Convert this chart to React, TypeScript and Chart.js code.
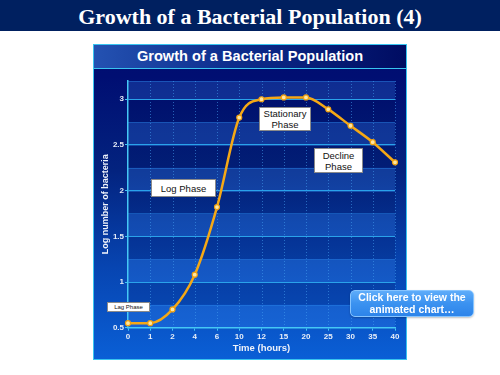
import React, { useEffect, useRef } from "react";
import { Chart, registerables } from "chart.js";

Chart.register(...registerables);

// ---- data ----
const timeLabels = ["0", "1", "2", "4", "6", "10", "12", "15", "20", "25", "30", "35", "40"];
const logBacteria = [0.55, 0.55, 0.7, 1.08, 1.82, 2.8, 3.0, 3.02, 3.02, 2.89, 2.71, 2.53, 2.31];
const yMin = 0.5;
const yMax = 3.2;
const yStep = 0.5;
const bandStep = 0.25;

const pageTitle = "Growth of a Bacterial Population (4)";
const chartTitle = "Growth of a Bacterial Population";
const xTitle = "Time (hours)";
const yTitle = "Log number of bacteria";

const bandPlugin = {
  id: "bands",
  beforeDraw(chart: any) {
    const { ctx, chartArea: a, scales } = chart;
    const y = scales.y;
    const x = scales.x;
    ctx.save();
    let i = 0;
    for (let v = yMin; v < yMax - 1e-9; v += bandStep, i++) {
      const top = y.getPixelForValue(Math.min(v + bandStep, yMax));
      const bot = y.getPixelForValue(v);
      if (i % 2 === 0) {
        ctx.fillStyle = "rgba(70,150,255,0.22)";
        ctx.fillRect(a.left, top, a.right - a.left, bot - top);
      } else {
        ctx.fillStyle = "rgba(0,0,60,0.12)";
        ctx.fillRect(a.left, top, a.right - a.left, bot - top);
      }
      ctx.strokeStyle = "rgba(40,130,230,0.45)";
      ctx.lineWidth = 1;
      ctx.beginPath();
      ctx.moveTo(a.left, Math.round(top) + 0.5);
      ctx.lineTo(a.right, Math.round(top) + 0.5);
      ctx.stroke();
    }
    // vertical dotted grid lines
    ctx.strokeStyle = "rgba(70,160,240,0.55)";
    ctx.setLineDash([1, 2]);
    for (let k = 1; k < timeLabels.length; k++) {
      const px = Math.round(x.getPixelForValue(k)) + 0.5;
      ctx.beginPath();
      ctx.moveTo(px, a.top);
      ctx.lineTo(px, a.bottom);
      ctx.stroke();
    }
    ctx.restore();
  },
};

function ChartCanvas() {
  const ref = useRef<HTMLCanvasElement | null>(null);
  useEffect(() => {
    if (!ref.current) return;
    const chart = new Chart(ref.current, {
      type: "line",
      data: {
        labels: timeLabels,
        datasets: [
          {
            data: logBacteria,
            borderColor: "#f5a815",
            borderWidth: 2.5,
            cubicInterpolationMode: "monotone",
            pointRadius: 2.5,
            pointBackgroundColor: "#ffe7a0",
            pointBorderColor: "#f0a010",
            pointBorderWidth: 1.2,
            fill: false,
          },
        ],
      },
      options: {
        responsive: false,
        animation: false,
        devicePixelRatio: 1,
        layout: { padding: { left: 93, top: 81, right: 105, bottom: 15 } },
        plugins: { legend: { display: false }, tooltip: { enabled: false }, title: { display: false } },
        scales: {
          x: {
            type: "category",
            offset: false,
            afterFit: (s: any) => {
              s.height = 32.3;
            },
            grid: { drawOnChartArea: false, drawTicks: true, tickLength: 3, color: "#45c8f5" },
            border: { display: true, color: "#45c8f5", width: 1.5 },
            ticks: {
              color: "#e8eef8",
              padding: 1,
              maxRotation: 0,
              autoSkip: false,
              font: { family: "Arial, 'Liberation Sans', sans-serif", size: 8, weight: "bold" },
            },
            title: {
              display: true,
              text: xTitle,
              color: "#eef2fa",
              font: { family: "Arial, 'Liberation Sans', sans-serif", size: 9.5, weight: "bold" },
              padding: { top: 0, bottom: 6.3 },
            },
          },
          y: {
            min: yMin,
            max: yMax,
            afterFit: (s: any) => {
              s.width = 35;
            },
            afterBuildTicks: (s: any) => {
              s.ticks = s.ticks.filter((t: any) => Math.abs(t.value / yStep - Math.round(t.value / yStep)) < 1e-6);
            },
            grid: { color: "#2aa2ea", lineWidth: 1, tickLength: 3, drawTicks: true, tickColor: "#45c8f5" },
            border: { display: true, color: "#45c8f5", width: 1.5 },
            ticks: {
              stepSize: yStep,
              color: "#e8eef8",
              padding: 1,
              callback: (v: any) => String(Number(v)),
              font: { family: "Arial, 'Liberation Sans', sans-serif", size: 8, weight: "bold" },
            },
            title: {
              display: true,
              text: yTitle,
              color: "#eef2fa",
              font: { family: "Arial, 'Liberation Sans', sans-serif", size: 9, weight: "bold" },
              padding: { top: 7.3, bottom: 0 },
            },
          },
        },
      },
      plugins: [bandPlugin],
    } as any);
    return () => chart.destroy();
  }, []);
  return (
    <canvas
      ref={ref}
      width={500}
      height={375}
      style={{ position: "absolute", left: 0, top: 0, width: 500, height: 375, zIndex: 2 }}
    />
  );
}

const boxStyle: React.CSSProperties = {
  position: "absolute",
  background: "#ffffff",
  border: "1px solid #8a8a8a",
  color: "#111",
  fontFamily: "Arial, 'Liberation Sans', sans-serif",
  display: "flex",
  alignItems: "center",
  justifyContent: "center",
  textAlign: "center",
  boxSizing: "border-box",
  zIndex: 3,
};

export default function App() {
  const sans = "Arial, 'Liberation Sans', sans-serif";
  return (
    <div
      style={{
        position: "fixed",
        left: 0,
        top: 0,
        width: 500,
        height: 375,
        background: "#ffffff",
        overflow: "hidden",
        fontFamily: sans,
      }}
    >
      <div
        style={{
          position: "absolute",
          left: 0,
          top: 0,
          width: 500,
          height: 31,
          background: "#002060",
          color: "#ffffff",
          fontFamily: "'Liberation Serif', 'Times New Roman', serif",
          fontWeight: "bold",
          fontSize: 22,
          lineHeight: "33px",
          textAlign: "center",
          whiteSpace: "nowrap",
        }}
      >
        {pageTitle}
      </div>
      <div
        style={{
          position: "absolute",
          left: 93,
          top: 44,
          width: 314,
          height: 316,
          boxSizing: "border-box",
          border: "1px solid #38c4f0",
          background: "linear-gradient(to bottom, #000d70 0%, #000e72 10%, #03237f 40%, #0744b0 70%, #0a5fd6 100%)",
          zIndex: 1,
        }}
      >
        <div
          style={{
            position: "absolute",
            left: 0,
            top: 0,
            right: 0,
            height: 23,
            borderBottom: "1.5px solid #38c4f0",
            background: "linear-gradient(to right, #2452b2 0%, #0c2c8c 45%, #000c62 100%)",
            color: "#ffffff",
            fontWeight: "bold",
            fontSize: 14.6,
            lineHeight: "23px",
            textAlign: "center",
            whiteSpace: "nowrap",
          }}
        >
          {chartTitle}
        </div>
      </div>
      <ChartCanvas />
      <div style={{ ...boxStyle, left: 107, top: 302, width: 43, height: 10, fontSize: 6 }}>Lag Phase</div>
      <div style={{ ...boxStyle, left: 151, top: 179, width: 65, height: 18, fontSize: 9.5 }}>Log Phase</div>
      <div style={{ ...boxStyle, left: 259, top: 107, width: 52, height: 24, fontSize: 9.5, lineHeight: "11px" }}>
        Stationary
        <br />
        Phase
      </div>
      <div style={{ ...boxStyle, left: 314, top: 148, width: 49, height: 25, fontSize: 9.5, lineHeight: "11px" }}>
        Decline
        <br />
        Phase
      </div>
      <div
        style={{
          position: "absolute",
          left: 350,
          top: 290,
          width: 124,
          height: 27,
          boxSizing: "border-box",
          borderRadius: 5,
          border: "1px solid #86c4ff",
          background: "linear-gradient(to bottom, #5eacfa 0%, #3b92f0 50%, #2d84ea 100%)",
          boxShadow: "0 1px 2px rgba(0,0,0,0.25)",
          color: "#ffffff",
          fontWeight: "bold",
          fontSize: 10.5,
          lineHeight: "11.5px",
          textAlign: "center",
          display: "flex",
          flexDirection: "column",
          alignItems: "center",
          justifyContent: "center",
          zIndex: 4,
        }}
      >
        <span>Click here to view the</span>
        <span>animated chart…</span>
      </div>
    </div>
  );
}
